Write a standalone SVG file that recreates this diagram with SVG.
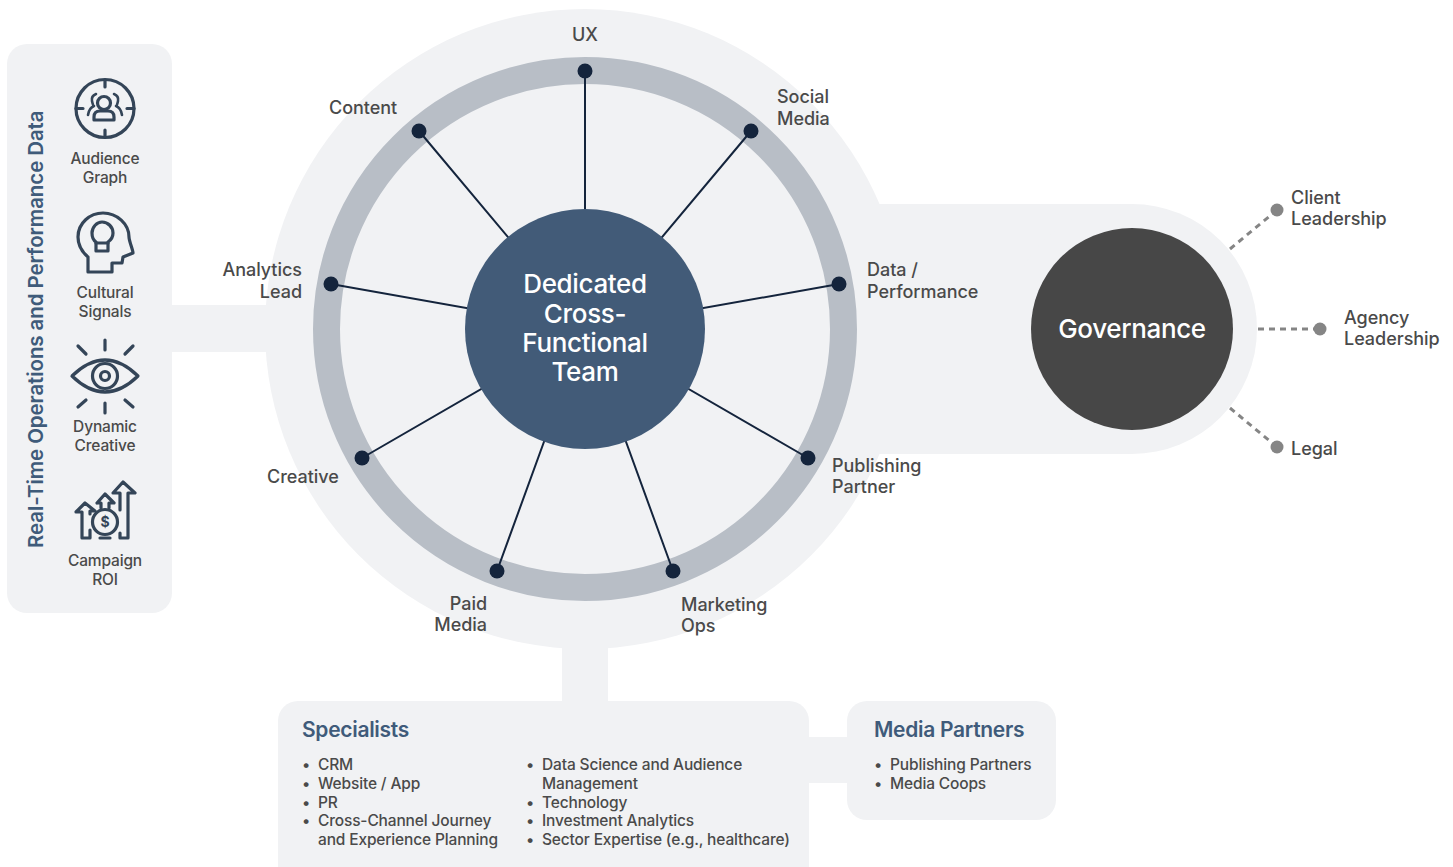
<svg xmlns="http://www.w3.org/2000/svg" width="1453" height="867" viewBox="0 0 1453 867">
<style>
text{font-family:Inter,"Liberation Sans",sans-serif;fill:#4a4a4a;font-size:18px;font-weight:500;letter-spacing:-.03px}
.s{font-size:15.5px;letter-spacing:-.15px}
.m{text-anchor:middle}
.e{text-anchor:end}
.h{font-size:21px;font-weight:600;fill:#3f5b7a;letter-spacing:-.3px}
.pale{fill:#f1f2f4}
.spoke{stroke:#14243c;stroke-width:2;fill:none}
.dot{fill:#14243c}
.dash{stroke:#858585;stroke-width:3;stroke-dasharray:6 5;fill:none}
.gd{fill:#858585}
.ic{fill:none;stroke:#344558;stroke-width:3.2;stroke-linecap:round;stroke-linejoin:round}
.w{fill:#fff;font-size:26px;letter-spacing:-.35px}
</style>
<g id="backdrop">
<circle class="pale" cx="585" cy="329" r="320"/>
<rect class="pale" x="585" y="204" width="547" height="250"/>
<circle class="pale" cx="1132" cy="329" r="125"/>
<rect class="pale" x="170" y="305" width="110" height="47"/>
<rect class="pale" x="562" y="640" width="46" height="70"/>
<rect class="pale" x="800" y="737" width="55" height="46"/>
</g>
<g id="connectors">
<circle cx="585" cy="329" r="258.5" fill="none" stroke="#b8bec6" stroke-width="27"/>
<path class="spoke" d="M585 71V329M419 131L585 329M751 131L585 329M331 284L585 329M839 284L585 329M362 458L585 329M808 458L585 329M497 571L585 329M673 571L585 329"/>
<path class="dash" d="M1230 249L1277 210M1258 329H1320M1230 408L1277 447"/>
</g>
<g id="spoke-nodes">
<circle class="dot" cx="585" cy="71" r="7.5"/>
<circle class="dot" cx="419" cy="131" r="7.5"/>
<circle class="dot" cx="751" cy="131" r="7.5"/>
<circle class="dot" cx="331" cy="284" r="7.5"/>
<circle class="dot" cx="839" cy="284" r="7.5"/>
<circle class="dot" cx="362" cy="458" r="7.5"/>
<circle class="dot" cx="808" cy="458" r="7.5"/>
<circle class="dot" cx="497" cy="571" r="7.5"/>
<circle class="dot" cx="673" cy="571" r="7.5"/>
<text class="m" x="585" y="41">UX</text>
<text x="329" y="114">Content</text>
<text x="777" y="103">Social</text><text x="777" y="125">Media</text>
<text class="e" x="302" y="276">Analytics</text><text class="e" x="302" y="298">Lead</text>
<text x="867" y="276">Data /</text><text x="867" y="298">Performance</text>
<text x="267" y="483">Creative</text>
<text x="832" y="472">Publishing</text><text x="832" y="493">Partner</text>
<text class="e" x="487" y="610">Paid</text><text class="e" x="487" y="631">Media</text>
<text x="681" y="611">Marketing</text><text x="681" y="632">Ops</text>
</g>
<g id="team">
<circle cx="585" cy="329" r="120" fill="#425b78"/>
<text class="m w" x="585" y="293">Dedicated</text>
<text class="m w" x="585" y="323">Cross-</text>
<text class="m w" x="585" y="352">Functional</text>
<text class="m w" x="585" y="381">Team</text>
</g>
<g id="governance">
<circle cx="1132" cy="329" r="101" fill="#474747"/>
<text class="m w" x="1132" y="338">Governance</text>
</g>
<g id="client"><circle class="gd" cx="1277" cy="210" r="6.5"/><text x="1291" y="204">Client</text><text x="1291" y="225">Leadership</text></g>
<g id="agency"><circle class="gd" cx="1320" cy="329" r="6.5"/><text x="1344" y="324">Agency</text><text x="1344" y="345">Leadership</text></g>
<g id="legal"><circle class="gd" cx="1277" cy="447" r="6.5"/><text x="1291" y="455">Legal</text></g>
<g id="data-panel">
<rect class="pale" x="7" y="44" width="165" height="569" rx="20"/>
<text class="h" style="font-size:20.5px;letter-spacing:-.1px" transform="translate(43 548) rotate(-90)">Real-Time Operations and Performance Data</text>
<g id="audience-graph">
<g class="ic">
<circle cx="105" cy="108.500" r="29"/>
<path d="M105 80v7M105 130v7M76 108.500h7M127 108.500h7"/>
<circle cx="104" cy="103" r="6.500"/>
<path d="M94 120v-3q0-6 6-6h8q6 0 6 6v3z"/>
<path d="M96 94q-5 2-4 7t2 5q-5 2-6 9M114 94q5 2 4 7t-2 5q5 2 6 9" stroke-width="2.600"/>
</g>
<text class="m s" x="105" y="164">Audience</text><text class="m s" x="105" y="183">Graph</text>
</g>
<g id="cultural-signals">
<g class="ic">
<path d="M88 272V257C81 251 78 244 78 237C78 223 90 213 103 213C117 213 129 224 129 237C129 241 133 250 133 253L123 257L122 263H112V272Z"/>
<path d="M96 242C93 240 92 236 92 233C92 227 97 222 102 222C108 222 113 227 113 233C113 236 111 240 108 242V251H96Z"/>
<path d="M96 243H108"/>
</g>
<text class="m s" x="105" y="298">Cultural</text><text class="m s" x="105" y="317">Signals</text>
</g>
<g id="dynamic-creative">
<g class="ic">
<path d="M72 376q33-32 66 0q-33 32-66 0z"/>
<circle cx="105" cy="376" r="12.500"/>
<circle cx="105" cy="376" r="4.500"/>
<path d="M105 340v10M78 346l8 8M133 346l-8 8M105 403v10M78 407l8-7M133 407l-8-7"/>
</g>
<text class="m s" x="105" y="432">Dynamic</text><text class="m s" x="105" y="451">Creative</text>
</g>
<g id="campaign-roi">
<g class="ic">
<circle cx="105" cy="522" r="12.500"/>
<path d="M90 530V538H82V512H76L85 503L95 511H90V514M97 503L105 494L114 503H109V508M101 508V503H97M120 510V493H113L123 482L135 493H128V538H120V533M100 538H110"/>
</g>
<text class="m" style="font-size:14px;font-weight:700;fill:#344558" x="105" y="527">$</text>
<text class="m s" x="105" y="566">Campaign</text><text class="m s" x="105" y="585">ROI</text>
</g>
</g>
<g id="specialists">
<rect class="pale" x="278" y="701" width="531" height="190" rx="20"/>
<text class="h" x="302" y="737">Specialists</text>
<text class="s" x="302" y="770">•</text><text class="s" x="318" y="770">CRM</text>
<text class="s" x="302" y="789">•</text><text class="s" x="318" y="789">Website / App</text>
<text class="s" x="302" y="808">•</text><text class="s" x="318" y="808">PR</text>
<text class="s" x="302" y="826">•</text><text class="s" x="318" y="826">Cross-Channel Journey</text>
<text class="s" x="318" y="845">and Experience Planning</text>
<text class="s" x="526" y="770">•</text><text class="s" x="542" y="770">Data Science and Audience</text>
<text class="s" x="542" y="789">Management</text>
<text class="s" x="526" y="808">•</text><text class="s" x="542" y="808">Technology</text>
<text class="s" x="526" y="826">•</text><text class="s" x="542" y="826">Investment Analytics</text>
<text class="s" x="526" y="845">•</text><text class="s" x="542" y="845">Sector Expertise (e.g., healthcare)</text>
</g>
<g id="media-partners">
<rect class="pale" x="847" y="701" width="209" height="119" rx="20"/>
<text class="h" x="874" y="737">Media Partners</text>
<text class="s" x="874" y="770">•</text><text class="s" x="890" y="770">Publishing Partners</text>
<text class="s" x="874" y="789">•</text><text class="s" x="890" y="789">Media Coops</text>
</g>
</svg>
